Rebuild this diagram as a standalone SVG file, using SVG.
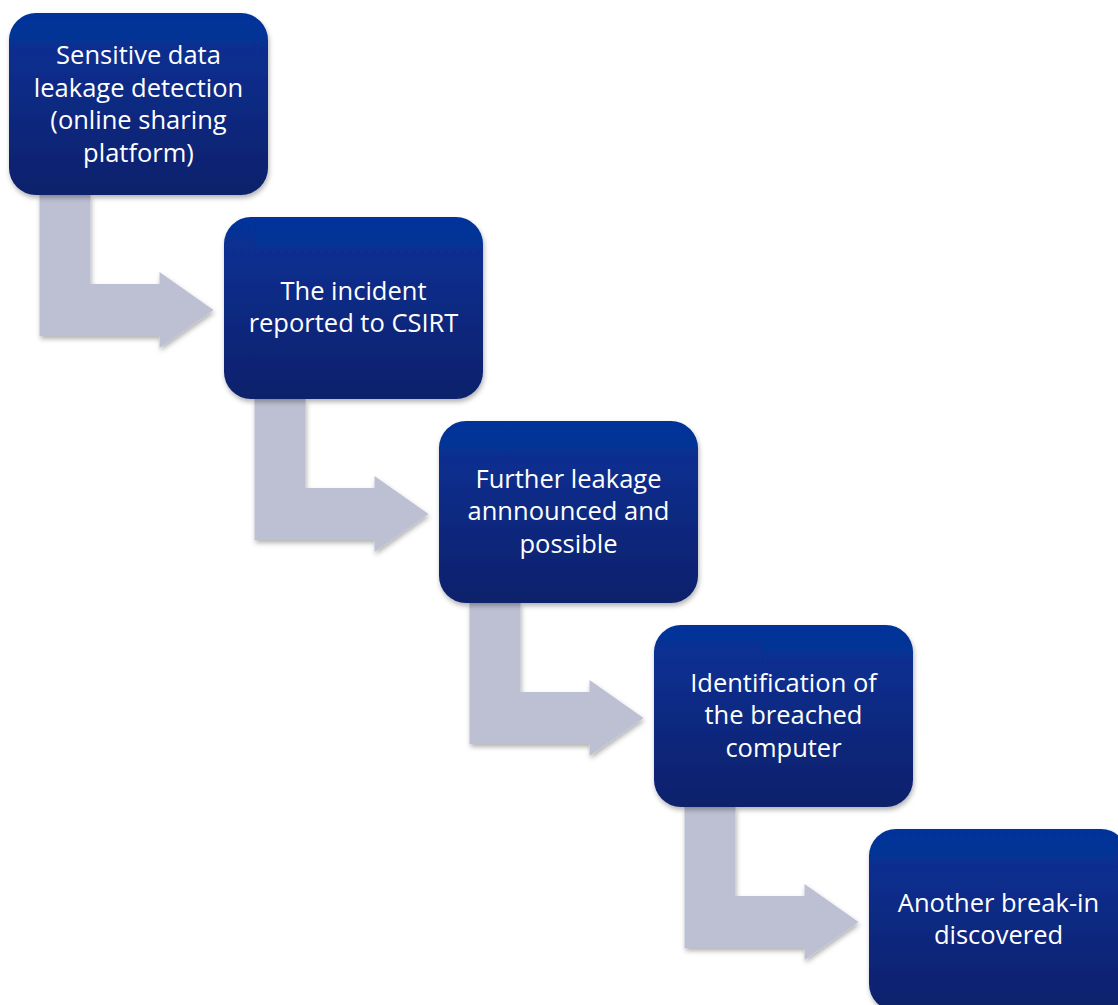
<svg xmlns="http://www.w3.org/2000/svg" width="1118" height="1005" viewBox="0 0 1118 1005">
<defs>
<linearGradient id="boxGrad" x1="0" y1="0" x2="0" y2="1">
<stop offset="0" stop-color="#06339a"/>
<stop offset="1" stop-color="#0a206a"/>
</linearGradient>
<filter id="shadow" x="-10%" y="-10%" width="125%" height="125%">
<feDropShadow dx="1" dy="3" stdDeviation="2.5" flood-color="#000" flood-opacity="0.3"/>
</filter>
<path id="bend" d="M30.5,182 H81.5 V271 H150.5 V259 L204.5,297 L150.5,335 V323 H30.5 Z"/>
</defs>
<style>
.box{fill:url(#boxGrad);filter:url(#shadow);}
.arrow{fill:#bcc0d2;filter:url(#shadow);}
.label{font-family:"Open Sans","Liberation Sans",sans-serif;font-size:25.5px;fill:#ffffff;text-anchor:middle;}
</style>
<rect width="1118" height="1005" fill="#ffffff"/>
<g id="connectors">
<use href="#bend" class="arrow" transform="translate(9,13)"/>
<use href="#bend" class="arrow" transform="translate(224,217)"/>
<use href="#bend" class="arrow" transform="translate(439,421)"/>
<use href="#bend" class="arrow" transform="translate(654,625)"/>
</g>
<g id="node1">
<rect class="box" x="9" y="13" width="259" height="182" rx="27"/>
<text class="label"><tspan x="138.5" y="64">Sensitive data</tspan><tspan x="138.5" y="96.5">leakage detection</tspan><tspan x="138.5" y="129">(online sharing</tspan><tspan x="138.5" y="161.5">platform)</tspan></text>
</g>
<g id="node2">
<rect class="box" x="224" y="217" width="259" height="182" rx="27"/>
<text class="label"><tspan x="353.5" y="299.5">The incident</tspan><tspan x="353.5" y="332">reported to CSIRT</tspan></text>
</g>
<g id="node3">
<rect class="box" x="439" y="421" width="259" height="182" rx="27"/>
<text class="label"><tspan x="568.5" y="487.5">Further leakage</tspan><tspan x="568.5" y="520">annnounced and</tspan><tspan x="568.5" y="552.5">possible</tspan></text>
</g>
<g id="node4">
<rect class="box" x="654" y="625" width="259" height="182" rx="27"/>
<text class="label"><tspan x="783.5" y="691.5">Identification of</tspan><tspan x="783.5" y="724">the breached</tspan><tspan x="783.5" y="756.5">computer</tspan></text>
</g>
<g id="node5">
<rect class="box" x="869" y="829" width="259" height="182" rx="27"/>
<text class="label"><tspan x="998.5" y="911.5">Another break-in</tspan><tspan x="998.5" y="944">discovered</tspan></text>
</g>
</svg>
